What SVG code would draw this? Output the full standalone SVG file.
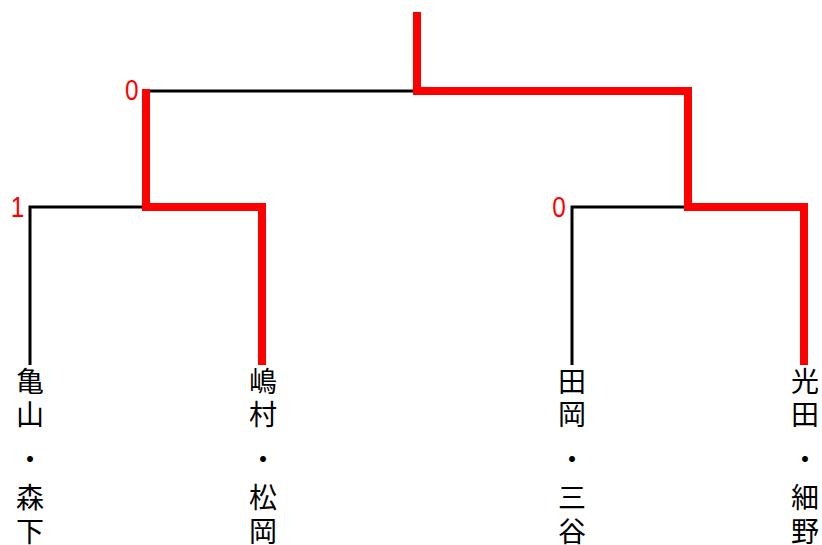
<svg xmlns="http://www.w3.org/2000/svg" width="822" height="545" viewBox="0 0 822 545">
<style>
.blk{fill:none;stroke:#000;stroke-width:3;stroke-linejoin:miter;stroke-linecap:butt}
.red{fill:none;stroke:#ff0000;stroke-width:8;stroke-linejoin:miter;stroke-linecap:butt}
.nm{font-family:"Noto Sans CJK JP","Noto Sans CJK SC",sans-serif;font-size:28px;fill:#000;text-anchor:middle}
.sc{font-family:"Liberation Sans",Arial,sans-serif;font-size:29px;fill:#ff0000;text-anchor:end}
</style>
<rect width="822" height="545" fill="#fff"/>
<g id="connectors">
<path class="blk" d="M146,91 H417"/>
<path class="blk" d="M146,207 H30 V365"/>
<path class="blk" d="M688,207 H572 V365"/>
<path class="red" d="M146,89 V207 H262 V365"/>
<path class="red" d="M417,12 V91 H688 V207 H804 V365"/>
</g>
<g id="scores">
<text class="sc" transform="translate(138.5,99.5) scale(0.84,1)">0</text>
<text class="sc" transform="translate(24.3,217) scale(0.84,1)">1</text>
<text class="sc" transform="translate(565.7,216.5) scale(0.84,1)">0</text>
</g>
<g id="team1" class="nm">
<text x="30" y="391.5">亀</text>
<text x="30" y="424.5">山</text>
<text x="30" y="470">・</text>
<text x="30" y="507.5">森</text>
<text x="30" y="541.5">下</text>
</g>
<g id="team2" class="nm">
<text x="263" y="391.5">嶋</text>
<text x="263" y="424.5">村</text>
<text x="263" y="470">・</text>
<text x="263" y="507.5">松</text>
<text x="263" y="541.5">岡</text>
</g>
<g id="team3" class="nm">
<text x="572" y="391.5">田</text>
<text x="572" y="424.5">岡</text>
<text x="572" y="470">・</text>
<text x="572" y="507.5">三</text>
<text x="572" y="541.5">谷</text>
</g>
<g id="team4" class="nm">
<text x="805" y="391.5">光</text>
<text x="805" y="424.5">田</text>
<text x="805" y="470">・</text>
<text x="805" y="507.5">細</text>
<text x="805" y="541.5">野</text>
</g>
</svg>
